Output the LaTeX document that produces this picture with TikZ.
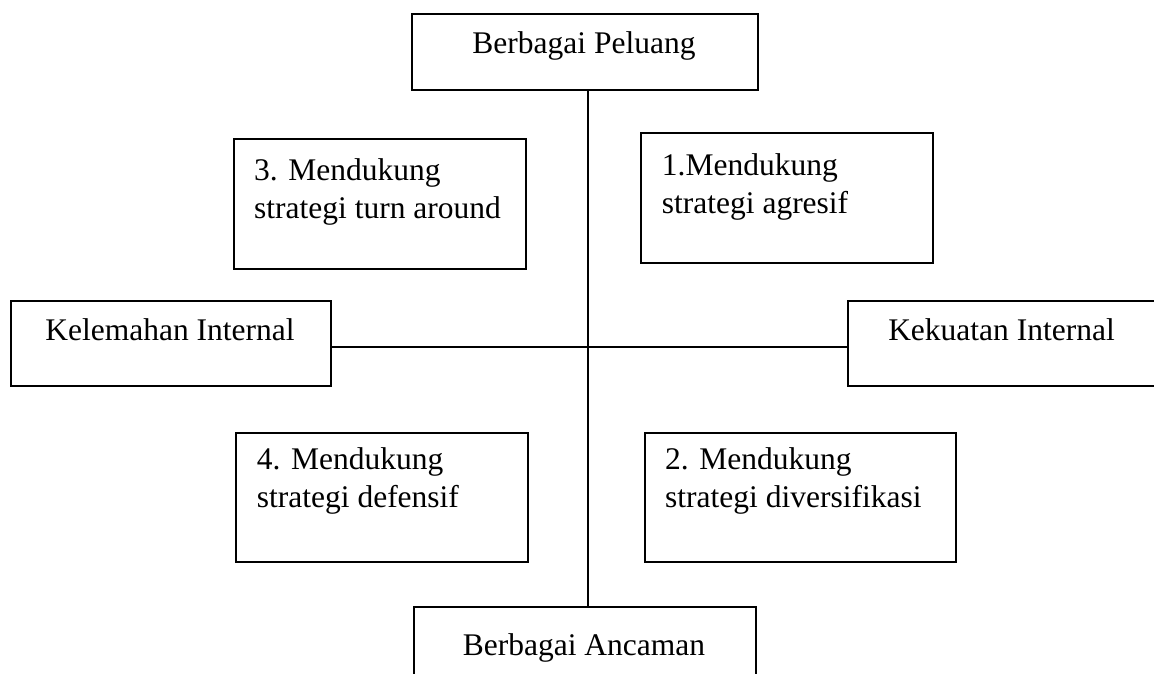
\documentclass[tikz,border=0pt]{standalone}
\usepackage{fontspec}
\setmainfont{Liberation Serif}
\begin{document}
\begin{tikzpicture}[x=1pt,y=-1pt,
  box/.style={draw=black, line width=1.8pt, rectangle, inner sep=0pt, anchor=north west},
  txt/.style={inner sep=0pt, font=\fontsize{31.5}{38}\selectfont},
  mtxt/.style={txt, align=left, anchor=base west},
  axis/.style={draw=black, line width=2pt}]
\useasboundingbox (0,0) rectangle (1154,673);
% boxes
\node[box, minimum width=346pt, minimum height=76pt] (top) at (411,13.3) {};
\node[box, minimum width=342pt, minimum height=90pt] (bot) at (413,606) {};
\node[box, minimum width=320pt, minimum height=85pt] (left) at (10,300) {};
\node[box, minimum width=309pt, minimum height=85pt] (right) at (847,300) {};
\node[box, minimum width=292pt, minimum height=130pt] (b3) at (233,138) {};
\node[box, minimum width=292pt, minimum height=130pt] (b1) at (640,132) {};
\node[box, minimum width=292pt, minimum height=129pt] (b4) at (235,432) {};
\node[box, minimum width=311pt, minimum height=129pt] (b2) at (644,432) {};
% axes
\coordinate (c) at (588,347);
\draw[axis] (top.south -| c) -- (bot.north -| c);
\draw[axis] (left.east |- c) -- (right.west |- c);
% texts
\node[txt, anchor=base] (ttop) at (584,53.3) {Berbagai Peluang};
\node[txt, anchor=base] (tbot) at (584,655) {Berbagai Ancaman};
\node[txt, anchor=base] (tleft) at (170,340) {Kelemahan Internal};
\node[txt, anchor=base] (tright) at (1001.5,340) {Kekuatan Internal};
\node[mtxt] (t3) at (254,218.5) {3. Mendukung\\strategi turn around};
\node[mtxt] (t1) at (661.7,213.5) {1.Mendukung\\strategi agresif};
\node[mtxt] (t4) at (256.7,507.5) {4. Mendukung\\strategi defensif};
\node[mtxt] (t2) at (665,507.5) {2. Mendukung\\strategi diversifikasi};
\end{tikzpicture}
\end{document}
